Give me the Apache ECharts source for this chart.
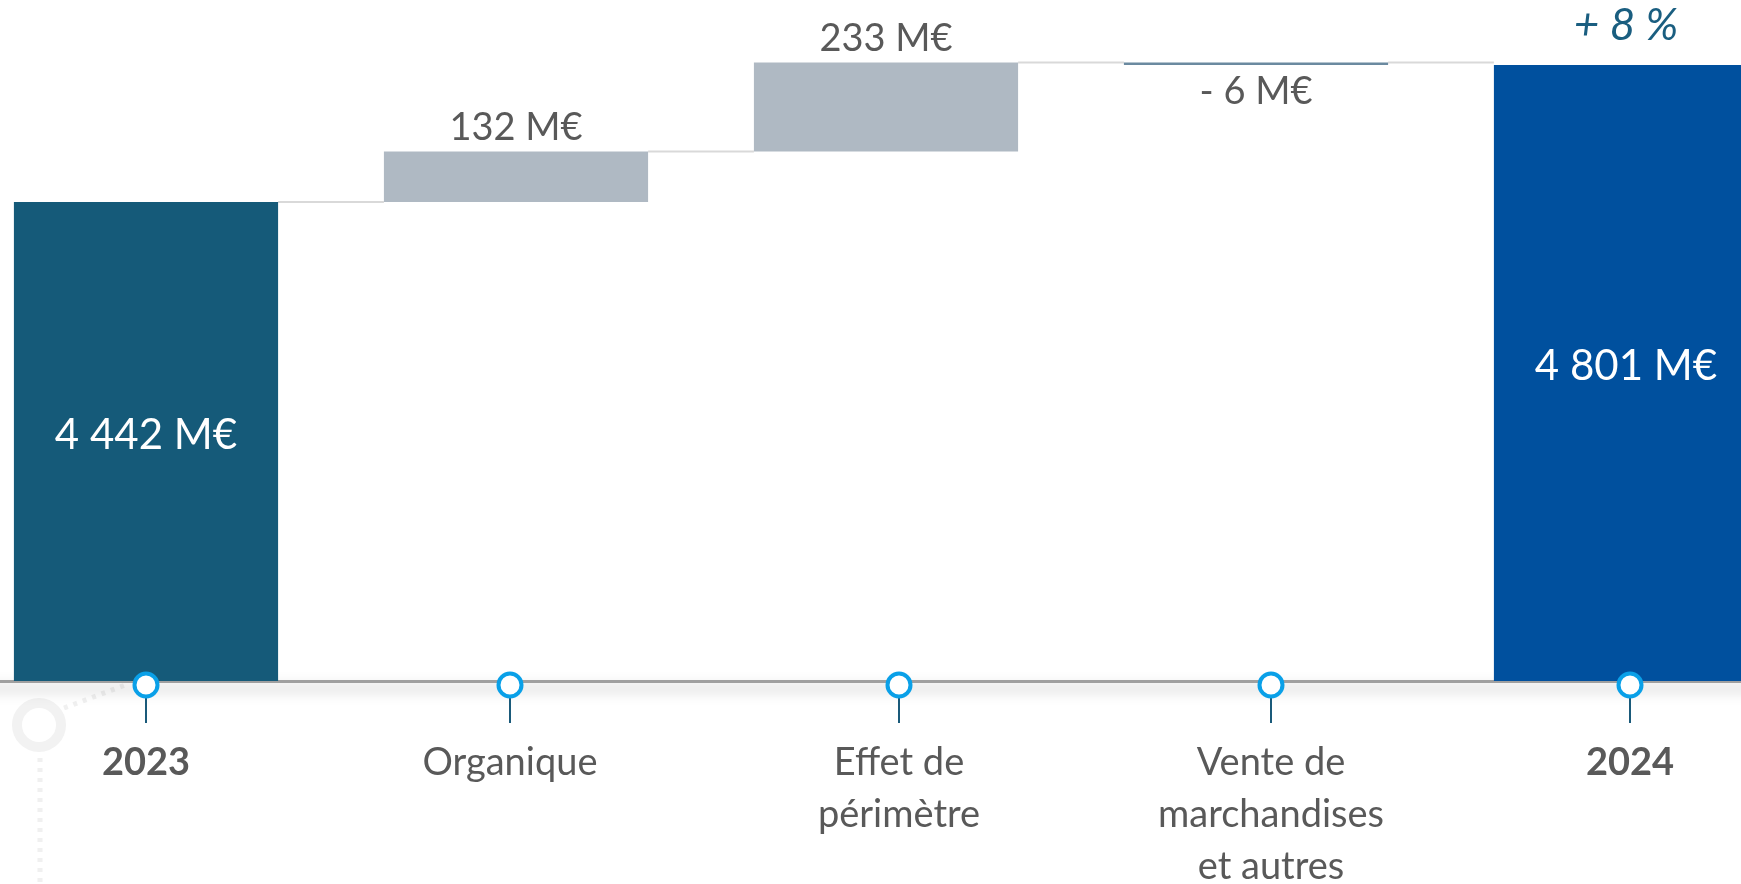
<!DOCTYPE html>
<html>
<head>
<meta charset="utf-8">
<script src="https://cdn.jsdelivr.net/npm/echarts@6/dist/echarts.min.js"></script>
<style>
    html, body {margin: 0; padding: 0; background: #fff; overflow: hidden;}
    body {width: 1741px; height: 884px; position: relative;}
    /* la dernière barre déborde à droite, la première catégorie commence avant le bord gauche */
    #chart {position: absolute; left: -39px; top: 0; width: 1850px; height: 884px;}
</style>
</head>
<body>
<div id="chart"></div>
<script>
// categories and values (M€)
const categories = ['2023', 'Organique', 'Effet de\npérimètre', 'Vente de\nmarchandises\net autres', '2024'];
const values = [4442, 132, 233, -6, 4801];
const is_total = [true, false, false, false, true];
const value_labels = ['4 442 M€', '132 M€', '233 M€', '- 6 M€', '4 801 M€'];
const growth_label = '+ 8 %';

const bar_colors = ['#155a79', '#afb9c3', '#afb9c3', '#6b8aa0', '#00509e'];
// décalage (px) des repères de la frise par rapport au centre des barres
const pin_shift = [0, -6, 13, 15, 4];
const label_font = 'Lato, "Open Sans", sans-serif';
const Y_MIN = 3187;
const SHIFT = 39;

/**
 * base (invisible) et hauteur visible de chaque barre
 */
function build_waterfall(values, is_total) {
    let base = [], delta = [], tops = [];
    let running = 0;
    values.forEach(function (v, i) {
        if (is_total[i]) {
            base.push(0);
            delta.push(v);
            running = v;
            tops.push(v);
        } else if (v >= 0) {
            base.push(running);
            delta.push(v);
            running += v;
            tops.push(running);
        } else {
            tops.push(running);
            running += v;
            base.push(running);
            delta.push(-v);
        }
    });
    return {base: base, delta: delta, tops: tops};
}

const wf = build_waterfall(values, is_total);

// lignes de liaison: du haut de la barre i vers la barre i+1
let connectors = [];
for (let i = 0; i < values.length - 1; i++) {
    connectors.push([i, wf.tops[i]]);
}

const BAR_RATIO = 0.714;

let chart = echarts.init(document.getElementById('chart'), null, {renderer: 'canvas'});

let option = {
    animation: false,
    backgroundColor: '#ffffff',
    grid: {left: 0, right: 0, top: 0, bottom: 203, containLabel: false, outerBoundsMode: 'none'},
    xAxis: {
        type: 'category',
        data: categories,
        axisLine: {
            show: true,
            lineStyle: {
                color: '#a0a0a0', width: 3,
                shadowColor: 'rgba(0,0,0,0.35)', shadowBlur: 14, shadowOffsetY: 7
            }
        },
        axisTick: {show: false},
        axisLabel: {show: false}
    },
    yAxis: {type: 'value', min: Y_MIN, max: 4971, show: false, splitLine: {show: false}},
    graphic: [
        {type: 'circle', z: -1, shape: {cx: 39 + SHIFT, cy: 725, r: 22}, style: {fill: 'none', stroke: '#f2f2f2', lineWidth: 10}},
        {type: 'line', z: -1, shape: {x1: 40 + SHIFT, y1: 758, x2: 40 + SHIFT, y2: 884}, style: {stroke: '#f0f0f0', lineWidth: 5, lineDash: [4, 6]}},
        {type: 'line', z: -1, shape: {x1: 64 + SHIFT, y1: 708, x2: 128 + SHIFT, y2: 684}, style: {stroke: '#f0f0f0', lineWidth: 5, lineDash: [4, 6]}}
    ],
    series: [
        {
            type: 'bar',
            stack: 'wf',
            barWidth: (BAR_RATIO * 100) + '%',
            itemStyle: {color: 'transparent'},
            emphasis: {disabled: true},
            data: wf.base
        },
        {
            type: 'bar',
            stack: 'wf',
            barWidth: (BAR_RATIO * 100) + '%',
            data: wf.delta.map(function (d, i) {
                let label;
                if (is_total[i]) {
                    label = {show: true, position: 'inside', fontSize: 42, color: '#ffffff', offset: [0, -6]};
                } else if (values[i] < 0) {
                    label = {show: true, position: 'bottom', distance: 8, fontSize: 38, color: '#595959'};
                } else {
                    label = {show: true, position: 'top', distance: 5, fontSize: 38, color: '#595959'};
                }
                label.fontFamily = label_font;
                label.formatter = value_labels[i];
                return {value: d, itemStyle: {color: bar_colors[i]}, label: label};
            }),
            markPoint: {
                symbol: 'circle',
                symbolSize: 0,
                data: [{coord: [categories.length - 1, values[values.length - 1]]}],
                label: {
                    show: true, position: 'top', distance: 17,
                    formatter: growth_label,
                    fontFamily: label_font, fontStyle: 'italic', fontSize: 44, color: '#1a5e80'
                }
            }
        },
        {
            // lignes de liaison
            type: 'custom',
            silent: true,
            z: 1,
            data: connectors,
            renderItem: function (params, api) {
                let i = api.value(0);
                let p = api.coord([i, api.value(1)]);
                let band = api.size([1, 0])[0];
                let bw = band * BAR_RATIO;
                return {
                    type: 'line',
                    shape: {x1: p[0] + bw / 2, y1: p[1], x2: p[0] + band - bw / 2, y2: p[1]},
                    style: {stroke: '#d9d9d9', lineWidth: 2}
                };
            }
        },
        {
            // frise: repère, tige et libellé de chaque catégorie
            type: 'custom',
            silent: true,
            clip: false,
            z: 5,
            data: categories.map(function (c, i) {
                return [i, Y_MIN];
            }),
            renderItem: function (params, api) {
                let i = api.value(0);
                let p = api.coord([i, api.value(1)]);
                let x = p[0] + pin_shift[i];
                let y = p[1];
                return {
                    type: 'group',
                    children: [
                        {
                            type: 'line',
                            shape: {x1: x, y1: y + 10, x2: x, y2: y + 42},
                            style: {stroke: '#1a5a7a', lineWidth: 2}
                        },
                        {
                            type: 'circle',
                            shape: {cx: x, cy: y + 4, r: 11.5},
                            style: {fill: '#ffffff', stroke: '#0aa0e8', lineWidth: 4}
                        },
                        {
                            type: 'text',
                            x: x,
                            y: y + 56,
                            style: {
                                text: categories[i],
                                font: (is_total[i] ? 'bold ' : '') + '38px ' + label_font,
                                fill: '#595959',
                                align: 'center',
                                verticalAlign: 'top',
                                lineHeight: 52
                            }
                        }
                    ]
                };
            }
        }
    ]
};

chart.setOption(option);
window.addEventListener('resize', function () {
    chart.resize();
});
</script>
</body>
</html>
